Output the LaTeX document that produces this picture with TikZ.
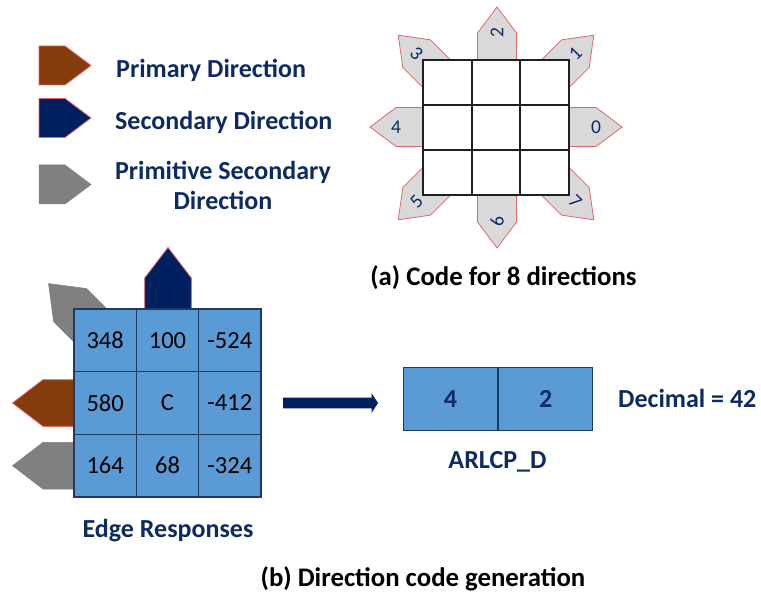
\documentclass[tikz,border=0pt]{standalone}
\usepackage{fontspec}
\setmainfont{Carlito}
\usetikzlibrary{calc}

\definecolor{brownarr}{HTML}{843C0C}
\definecolor{navyarr}{HTML}{002060}
\definecolor{grayarr}{HTML}{808080}
\definecolor{lightarr}{HTML}{D9D9D9}
\definecolor{redline}{HTML}{E06666}
\definecolor{cellblue}{HTML}{5B9BD5}
\definecolor{cellline}{HTML}{1F3864}
\definecolor{labelnavy}{HTML}{0D2A63}
\definecolor{gridline}{HTML}{202020}

% pentagon pointer: #1 style, #2 base centre, #3 direction, #4 width, #5 body, #6 tip
\newcommand\pointer[6]{%
  \begin{scope}[shift={#2}, rotate=#3]
    \path[#1] (0,-#4/2) -- (#5,-#4/2) -- (#5+#6,0) -- (#5,#4/2) -- (0,#4/2) -- cycle;
  \end{scope}}
% code label inside a pointer: #1 base centre, #2 direction, #3 text angle, #4 text, #5 name
\newcommand\codelabel[5]{%
  \begin{scope}[shift={#1}, rotate=#2]
    \node[codetxt, rotate=#3] (#5) at (27,0) {#4};
  \end{scope}}

\tikzset{
  codearr/.style={fill=lightarr, draw=redline, line width=0.8pt, line join=miter},
  primarr/.style={fill=brownarr, draw=redline, line width=0.8pt},
  secarr/.style={fill=navyarr, draw=redline, line width=0.8pt},
  primsecarr/.style={fill=grayarr, draw=grayarr, line width=0.5pt},
  codetxt/.style={text=labelnavy, font=\fontsize{19.5}{22}\selectfont, inner sep=0pt},
  legendtxt/.style={text=labelnavy, font=\fontsize{26}{30}\bfseries\selectfont, inner sep=0pt, align=center},
  captxt/.style={text=black, font=\fontsize{26.8}{30}\bfseries\selectfont, inner sep=0pt},
  valtxt/.style={text=black, font=\fontsize{24.5}{28}\selectfont, inner sep=0pt},
  boxtxt/.style={text=labelnavy, font=\fontsize{26}{30}\bfseries\selectfont, inner sep=0pt},
}

\begin{document}
\begin{tikzpicture}[x=1pt, y=-1pt]
\useasboundingbox (0,0) rectangle (761,599);

% ---------------- legend ----------------
\pointer{primarr}{(39,65.5)}{0}{39}{26}{26}
\pointer{secarr}{(39,118)}{0}{39}{26}{26}
\pointer{primsecarr}{(39,184.5)}{0}{39}{26}{26}
\node[legendtxt, anchor=west] (lprim) at (116,70) {Primary Direction};
\node[legendtxt, anchor=west] (lsec) at (115,122) {Secondary Direction};
\node[legendtxt] (lpsec) at (223,185) {Primitive Secondary\\Direction};

% ---------------- (a) eight direction codes ----------------
\pointer{codearr}{(569,127)}{0}{39}{27}{26}
\pointer{codearr}{(556.3,72.7)}{45}{39}{27}{26}
\pointer{codearr}{(497,60)}{90}{39}{27}{26}
\pointer{codearr}{(435.7,72.7)}{135}{39}{27}{26}
\pointer{codearr}{(423,127)}{180}{39}{27}{26}
\pointer{codearr}{(435.7,182.3)}{225}{39}{27}{26}
\pointer{codearr}{(497,195)}{270}{39}{27}{26}
\pointer{codearr}{(556.3,182.3)}{315}{39}{27}{26}

% 3x3 neighbourhood
\draw[fill=white, draw=gridline, line width=1.8pt] (423,60) rectangle (569,195);
\draw[draw=gridline, line width=1.8pt] (471.7,60) -- (471.7,195) (520.3,60) -- (520.3,195)
                        (423,105) -- (569,105) (423,150) -- (569,150);

\codelabel{(569,127)}{0}{0}{0}{c0}
\codelabel{(556.3,72.7)}{45}{45}{1}{c1}
\codelabel{(497,60)}{90}{90}{2}{c2}
\codelabel{(435.7,72.7)}{135}{-45}{3}{c3}
\codelabel{(423,127)}{180}{0}{4}{c4}
\codelabel{(435.7,182.3)}{225}{45}{5}{c5}
\codelabel{(497,195)}{270}{90}{6}{c6}
\codelabel{(556.3,182.3)}{315}{-45}{7}{c7}

\node[captxt] (capa) at (503.5,278) {(a) Code for 8 directions};

% ---------------- (b) direction code generation ----------------
\pointer{primsecarr}{(92,327)}{135}{46.7}{31}{30.5}
\pointer{secarr}{(168,309)}{90}{46.7}{31}{30.5}
\pointer{primarr}{(74,403)}{180}{46.7}{31}{30.5}
\pointer{primsecarr}{(74,465.7)}{180}{46.7}{31}{30.5}

% edge responses of the neighbourhood
\draw[fill=cellblue, draw=cellline, line width=1.5pt] (74,309) rectangle (261,497);
\draw[draw=cellline, line width=1.5pt] (136.3,309) -- (136.3,497) (198.7,309) -- (198.7,497)
                                       (74,371.7) -- (261,371.7) (74,434.3) -- (261,434.3);
\node[valtxt] (v11) at (105.2,340.3) {348};
\node[valtxt] (v12) at (167.5,340.3) {100};
\node[valtxt] (v13) at (229.8,340.3) {-524};
\node[valtxt] (v21) at (105.2,403) {580};
\node[valtxt] (v22) at (167.5,403) {C};
\node[valtxt] (v23) at (229.8,403) {-412};
\node[valtxt] (v31) at (105.2,465.7) {164};
\node[valtxt] (v32) at (167.5,465.7) {68};
\node[valtxt] (v33) at (229.8,465.7) {-324};

\node[legendtxt] (edge) at (168,531) {Edge Responses};

% thick arrow to the code
\coordinate (arrS) at (283,403);
\coordinate (arrE) at (378,403);
\fill[navyarr] (arrS) ++(0,-5.3) -- ++(88.5,0) -- ++(0,-4.7) -- (arrE) -- ++(-6.5,10)
               -- ++(0,-4.7) -- ++(-88.5,0) -- cycle;

% two-digit code
\node[draw=cellline, fill=cellblue, line width=1.1pt, minimum width=94.2pt, minimum height=63.4pt,
      inner sep=0pt] (d1) at (450.5,399) {};
\node[draw=cellline, fill=cellblue, line width=1.1pt, minimum width=94.2pt, minimum height=63.4pt,
      inner sep=0pt, anchor=west] (d2) at (d1.east) {};
\node[boxtxt] at (d1.center) {4};
\node[boxtxt] at (d2.center) {2};
\node[boxtxt] (arl) at (497.5,462) {ARLCP\_D};
\node[boxtxt, anchor=west] (dec) at (618,398.5) {Decimal = 42};

\node[captxt] (capb) at (423,579) {(b) Direction code generation};
\end{tikzpicture}
\end{document}
